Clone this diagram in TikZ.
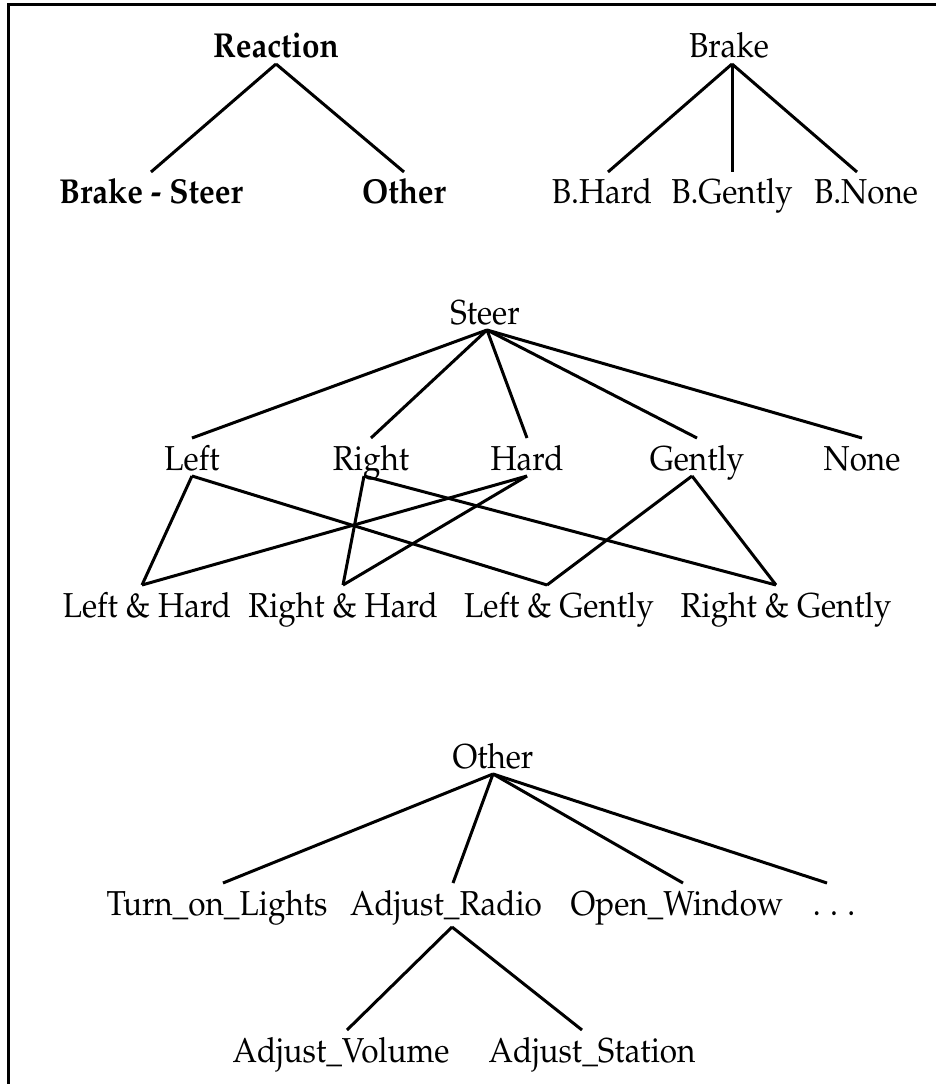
\documentclass[tikz,border=0pt]{standalone}
\usepackage[T1]{fontenc}
\usepackage{mathpazo}
\usepackage{graphicx}
\usepackage{tikz}
\tikzset{every picture/.style={line width=2.25pt}}
\newcommand{\lblsize}{\fontsize{23.6}{28}\selectfont}
\newcommand{\tallt}[1]{\scalebox{1}[1.1]{#1}}
\tikzset{
  lbl/.style={anchor=base, inner sep=0pt, outer xsep=0pt, outer ysep=4.5pt,
    text height=19.5pt, text depth=0pt, font=\lblsize},
  lblbold/.style={lbl, font=\lblsize\bfseries}
}

\begin{document}
\begin{tikzpicture}[x=0.75pt,y=0.75pt,yscale=-1,xscale=1]
\useasboundingbox (0,0) rectangle (936,1084);

% Frame
\draw    (8,1084) -- (8,5) -- (936,5) ;

% Reaction
\node [lblbold] (reaction) at (276,58) {\tallt{Reaction}};
\node [lblbold] (brakesteer) at (151,204) {\tallt{Brake - Steer}};
\node [lblbold] (other) at (404,204) {\tallt{Other}};
\draw    (reaction.south) -- (brakesteer.north) ;
\draw    (reaction.south) -- (other.north) ;

% Brake
\node [lbl] (brake) at (729,58) {\tallt{Brake}};
\node [lbl] (bhard) at (602,204) {\tallt{B.Hard}};
\node [lbl] (bgently) at (732,204) {\tallt{B.Gently}};
\node [lbl] (bnone) at (866,204) {\tallt{B.None}};
\draw    ([xshift=2.25pt]brake.south) -- ([xshift=4.5pt]bhard.north) ;
\draw    ([xshift=2.25pt]brake.south) -- (bgently.north) ;
\draw    ([xshift=2.25pt]brake.south) -- ([xshift=-6.75pt]bnone.north) ;

% Steer
\node [lbl] (steer) at (485,324) {\tallt{Steer}};
\node [lbl] (left) at (192,470) {\tallt{Left}};
\node [lbl] (right) at (371,470) {\tallt{Right}};
\node [lbl] (hard) at (527,470) {\tallt{Hard}};
\node [lbl] (gently) at (697,470) {\tallt{Gently}};
\node [lbl] (none) at (862,470) {\tallt{None}};
\draw    ([xshift=1.5pt]steer.south) -- (left.north) ;
\draw    ([xshift=1.5pt]steer.south) -- (right.north) ;
\draw    ([xshift=1.5pt]steer.south) -- (hard.north) ;
\draw    ([xshift=1.5pt]steer.south) -- (gently.north) ;
\draw    ([xshift=1.5pt]steer.south) -- (none.north) ;

% Steer combinations
\node [lbl] (lefthard) at (147,617) {\tallt{Left \& Hard}};
\node [lbl] (righthard) at (343,617) {\tallt{Right \& Hard}};
\node [lbl] (leftgently) at (559,617) {\tallt{Left \& Gently}};
\node [lbl] (rightgently) at (786,617) {\tallt{Right \& Gently}};
\draw    (left.south) -- ([xshift=-3.75pt]lefthard.north) ;
\draw    (left.south) -- ([xshift=-9pt]leftgently.north) ;
\draw    ([xshift=-5.25pt]right.south) -- (righthard.north) ;
\draw    ([xshift=-5.25pt]right.south) -- ([xshift=-7.5pt]rightgently.north) ;
\draw    (hard.south) -- ([xshift=-3.75pt]lefthard.north) ;
\draw    (hard.south) -- (righthard.north) ;
\draw    ([xshift=-3.75pt]gently.south) -- ([xshift=-9pt]leftgently.north) ;
\draw    ([xshift=-3.75pt]gently.south) -- ([xshift=-7.5pt]rightgently.north) ;

% Other
\node [lbl] (otherroot) at (493,768) {\tallt{Other}};
\node [lbl] (lights) at (217,915) {\tallt{Turn\_on\_Lights}};
\node [lbl] (radio) at (446,915) {\tallt{Adjust\_Radio}};
\node [lbl] (window) at (677,915) {\tallt{Open\_Window}};
\node [lbl] (dots) at (834,915) {\tallt{.\hspace{0.3em}.\hspace{0.3em}.}};
\draw    (otherroot.south) -- ([xshift=4.5pt]lights.north) ;
\draw    (otherroot.south) -- ([xshift=5.25pt]radio.north) ;
\draw    (otherroot.south) -- ([xshift=4.5pt]window.north) ;
\draw    (otherroot.south) -- ([xshift=-5.25pt]dots.north) ;

% Radio
\node [lbl] (volume) at (341,1062) {\tallt{Adjust\_Volume}};
\node [lbl] (station) at (592,1062) {\tallt{Adjust\_Station}};
\draw    ([xshift=4.5pt,yshift=4.5pt]radio.south) -- ([xshift=4.5pt]volume.north) ;
\draw    ([xshift=4.5pt,yshift=4.5pt]radio.south) -- ([xshift=-7.5pt]station.north) ;
\end{tikzpicture}
\end{document}
